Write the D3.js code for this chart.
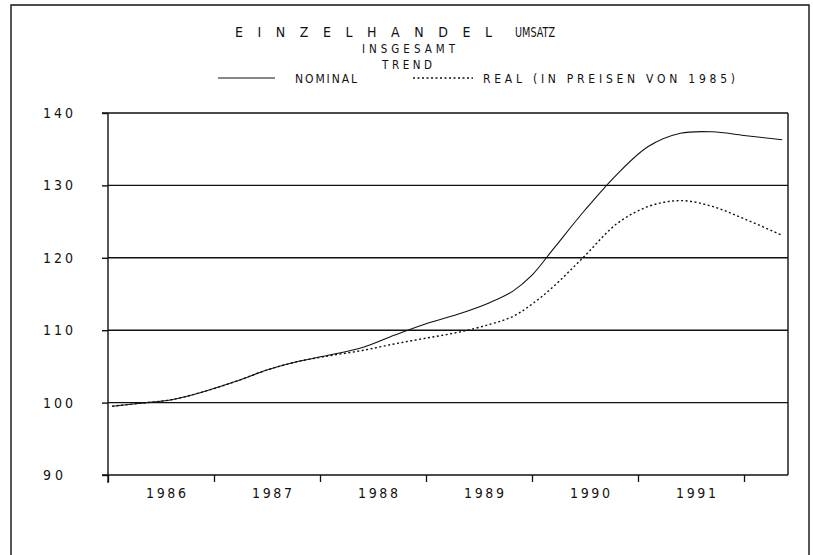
<!DOCTYPE html>
<html>
<head>
<meta charset="utf-8">
<script src="https://cdn.jsdelivr.net/npm/d3@7"></script>
<style>
  html, body { margin: 0; padding: 0; background: #fff; }
  svg { display: block; }
  text { font-family: "DejaVu Sans Condensed", "DejaVu Sans", sans-serif; fill: #111; font-weight: 300; }
</style>
</head>
<body>
<svg id="chart" width="813" height="555"></svg>
<script>
// ---- data ----
const titleLines = ["EINZELHANDEL", "UMSATZ", "INSGESAMT", "TREND"];
const seriesNames = ["NOMINAL", "REAL (IN PREISEN VON 1985)"];
const dates = [1986.04, 1986.3, 1986.6, 1986.9, 1987.2, 1987.5, 1987.8, 1988.1, 1988.4, 1988.7,
               1989.0, 1989.3, 1989.6, 1989.82, 1990.0, 1990.2, 1990.5, 1990.8, 1991.1, 1991.4, 1991.7,
               1992.0, 1992.36];
const nominal = [99.5, 99.9, 100.4, 101.5, 102.9, 104.5, 105.7, 106.6, 107.6, 109.3,
                 110.9, 112.2, 113.8, 115.4, 117.6, 121.2, 126.6, 131.5, 135.4, 137.2, 137.4,
                 136.9, 136.3];
const real = [99.5, 99.9, 100.4, 101.5, 102.9, 104.5, 105.7, 106.5, 107.2, 108.1,
              108.9, 109.7, 110.8, 111.9, 113.6, 116.0, 120.3, 124.7, 127.1, 127.9, 127.1,
              125.4, 123.1];
const yearLabels = ["1986", "1987", "1988", "1989", "1990", "1991"];
const yearTicks = [1986, 1987, 1988, 1989, 1990, 1991, 1992];
const yTicks = [90, 100, 110, 120, 130, 140];

// ---- layout ----
const svg = d3.select("#chart");
const x = d3.scaleLinear().domain([1986, 1992.415]).range([108, 788]);
const y = d3.scaleLinear().domain([90, 140]).range([475, 113]);

// outer frame
svg.append("path")
  .attr("d", "M11,555 L11,5 L809,5 L809,555")
  .attr("fill", "none").attr("stroke", "#111").attr("stroke-width", 1.4);

// titles
function txt(s, xx, yy, size, len, adj) {
  const t = svg.append("text").attr("x", xx).attr("y", yy)
    .attr("font-size", size).text(s);
  if (len) t.attr("textLength", len).attr("lengthAdjust", adj || "spacing");
  return t;
}
txt(titleLines[0], 235, 37, 14, 257);
txt(titleLines[1], 515, 37, 14, 40, "spacingAndGlyphs");
txt(titleLines[2], 362, 53, 11.5, 93);
txt(titleLines[3], 382, 69, 11.5, 50);

// legend
svg.append("line").attr("x1", 218).attr("x2", 275).attr("y1", 78).attr("y2", 78)
  .attr("stroke", "#111").attr("stroke-width", 1.1);
txt(seriesNames[0], 295, 83, 12, 62);
svg.append("line").attr("x1", 413).attr("x2", 473).attr("y1", 78).attr("y2", 78)
  .attr("stroke", "#111").attr("stroke-width", 1.3).attr("stroke-dasharray", "2,2.5");
txt(seriesNames[1], 483, 83, 12, 252);

// horizontal grid lines (incl. top border at 140)
svg.append("g").selectAll("line").data(yTicks.filter(v => v > 90)).join("line")
  .attr("x1", d => d === 140 ? 102 : 108).attr("x2", x(1992.415))
  .attr("y1", d => y(d)).attr("y2", d => y(d))
  .attr("stroke", "#111").attr("stroke-width", 1.4);

// right border
svg.append("line").attr("x1", x(1992.415)).attr("x2", x(1992.415))
  .attr("y1", y(140)).attr("y2", y(90))
  .attr("stroke", "#111").attr("stroke-width", 1.4);

// y axis
const yAxis = d3.axisLeft(y).tickValues(yTicks).tickSize(6).tickFormat("");
const gy = svg.append("g").attr("transform", "translate(108,0)").call(yAxis);
gy.select(".domain").attr("d", `M0,${y(140)}V${y(90) + 8}`).attr("stroke", "#111").attr("stroke-width", 1.4);
gy.selectAll(".tick line").attr("stroke", "#111").attr("stroke-width", 1.4);
svg.append("g").selectAll("text").data(yTicks).join("text")
  .attr("x", 43).attr("y", d => y(d) + 5)
  .attr("font-size", 14)
  .attr("textLength", d => String(d).length === 3 ? 30 : 20)
  .attr("lengthAdjust", "spacing")
  .text(d => d);

// x axis
const xAxis = d3.axisBottom(x).tickValues(yearTicks).tickSize(7).tickFormat("");
const gx = svg.append("g").attr("transform", `translate(0,${y(90)})`).call(xAxis);
gx.select(".domain").attr("d", `M102,0H${x(1992.415)}`).attr("stroke", "#111").attr("stroke-width", 1.4);
gx.selectAll(".tick line").attr("stroke", "#111").attr("stroke-width", 1.3);
svg.append("g").selectAll("text").data(yearLabels).join("text")
  .attr("x", (d) => x(+d + 0.5) + 5).attr("y", 498)
  .attr("text-anchor", "middle")
  .attr("font-size", 14)
  .attr("textLength", 40).attr("lengthAdjust", "spacing")
  .text(d => d);

// series
const lineGen = vals => d3.line()
  .x((d, i) => x(dates[i]))
  .y(d => y(d))
  .curve(d3.curveCatmullRom.alpha(0.5))(vals);

svg.append("path").attr("d", lineGen(real))
  .attr("fill", "none").attr("stroke", "#111").attr("stroke-width", 1.4)
  .attr("stroke-dasharray", "2,2.5");
svg.append("path").attr("d", lineGen(nominal))
  .attr("fill", "none").attr("stroke", "#111").attr("stroke-width", 1.1);
</script>
</body>
</html>
